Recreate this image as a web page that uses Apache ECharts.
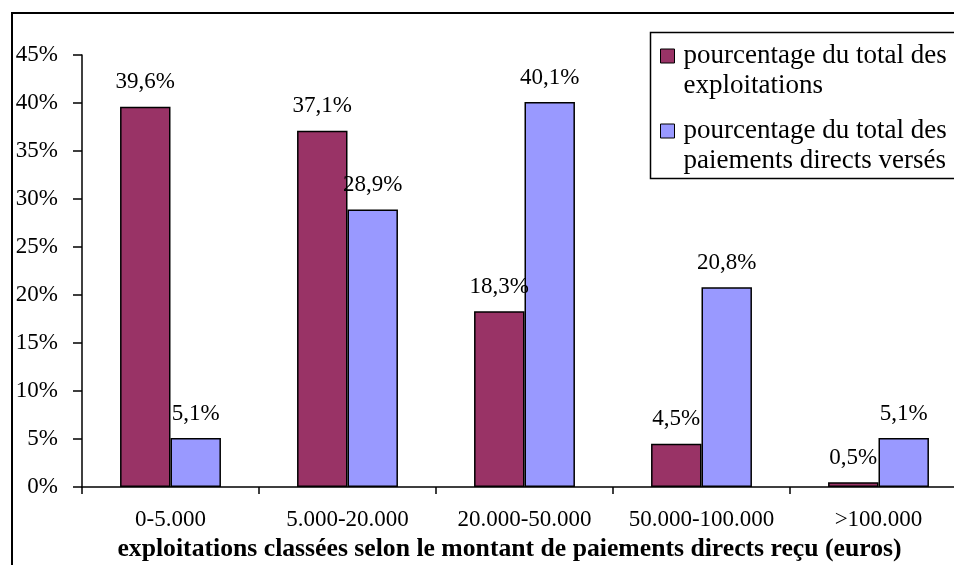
<!DOCTYPE html>
<html>
<head>
<meta charset="utf-8">
<script src="https://cdn.jsdelivr.net/npm/echarts@6/dist/echarts.min.js"></script>
<style>
html,body{margin:0;padding:0;background:#fff;}
#chart{width:954px;height:565px;}
</style>
</head>
<body>
<div id="chart"></div>
<script>
const categories = ['0-5.000', '5.000-20.000', '20.000-50.000', '50.000-100.000', '>100.000'];
const seriesNames = ['pourcentage du total des\nexploitations', 'pourcentage du total des\npaiements directs versés'];
const exploitations = [39.6, 37.1, 18.3, 4.5, 0.5];
const paiements = [5.1, 28.9, 40.1, 20.8, 5.1];
const yTicks = [0, 5, 10, 15, 20, 25, 30, 35, 40, 45];
const xAxisTitle = 'exploitations classées selon le montant de paiements directs reçu (euros)';

const FONT = '"Liberation Serif", "Times New Roman", serif';
const fmt = v => String(v).replace('.', ',') + '%';

const chart = echarts.init(document.getElementById('chart'), null, {renderer: 'canvas'});
const labelCfg = {
  show: true, position: 'top', distance: 13,
  fontFamily: FONT, fontSize: 23, color: '#000',
  formatter: p => fmt(p.value)
};
chart.setOption({
  backgroundColor: '#fff',
  animation: false,
  grid: {left: 82, top: 55, width: 885, height: 432, containLabel: false, outerBoundsMode: 'none'},
  legend: {
    orient: 'vertical', left: 660, top: 11, padding: 0, itemGap: -15,
    itemWidth: 14, itemHeight: 14, icon: 'rect',
    itemStyle: {borderColor: '#000', borderWidth: 1},
    formatter: name => ' \n' + name,
    textStyle: {fontFamily: FONT, fontSize: 27, color: '#000', lineHeight: 30, padding: [0, 0, 0, 4]},
    data: seriesNames
  },
  xAxis: {
    type: 'category', data: categories,
    axisLine: {lineStyle: {color: '#000', width: 1.5}},
    axisTick: {show: true, interval: 0, length: 7, lineStyle: {color: '#000', width: 1.5}},
    axisLabel: {interval: 0, fontFamily: FONT, fontSize: 23, color: '#000', margin: 21},
    name: xAxisTitle, nameLocation: 'middle', nameGap: 49,
    nameTextStyle: {fontFamily: FONT, fontSize: 25.7, fontWeight: 'bold', color: '#000', padding: [0, 30, 0, 0]}
  },
  yAxis: {
    type: 'value', min: yTicks[0], max: yTicks[yTicks.length - 1], interval: 5,
    axisLine: {show: true, lineStyle: {color: '#000', width: 1.5}},
    axisTick: {show: true, length: 9, lineStyle: {color: '#000', width: 1.5}},
    axisLabel: {fontFamily: FONT, fontSize: 23, color: '#000', margin: 24, formatter: v => v + '%'},
    splitLine: {show: false}
  },
  series: [
    {
      name: seriesNames[0], type: 'bar', data: exploitations,
      barGap: '0%', barCategoryGap: '43%',
      itemStyle: {color: '#993366', borderColor: '#000', borderWidth: 1.5},
      label: labelCfg
    },
    {
      name: seriesNames[1], type: 'bar', data: paiements,
      itemStyle: {color: '#9999FF', borderColor: '#000', borderWidth: 1.5},
      label: labelCfg
    }
  ],
  graphic: [
    {type: 'rect', silent: true, z: 100, shape: {x: 12, y: 13, width: 1000, height: 600},
     style: {fill: 'none', stroke: '#000', lineWidth: 2}},
    {type: 'rect', silent: true, z: 100, shape: {x: 650.5, y: 32.5, width: 320, height: 146},
     style: {fill: 'none', stroke: '#000', lineWidth: 1.5}}
  ]
});
</script>
</body>
</html>
